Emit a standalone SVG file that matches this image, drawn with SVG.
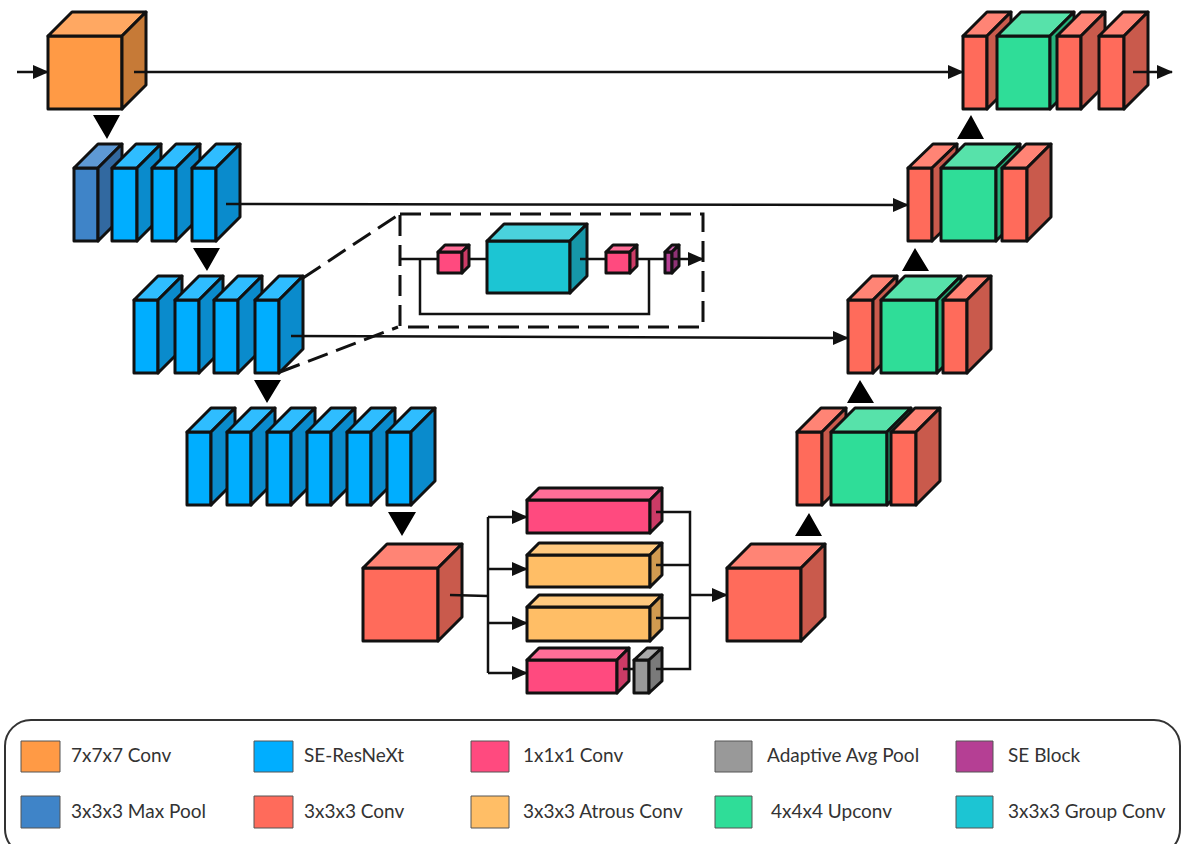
<svg xmlns="http://www.w3.org/2000/svg" width="1181" height="844" viewBox="0 0 1181 844">
<style>
text{font-family:Lato,"Liberation Sans",sans-serif;font-size:19px;fill:#333}
.c rect,.c path{stroke:#111;stroke-width:3;stroke-linejoin:round}
.c rect.sw{stroke:#555;stroke-width:1}
.l{fill:none;stroke:#111;stroke-width:2.5}
.d{fill:none;stroke:#111;stroke-width:3;stroke-dasharray:21 9}
.or .f{fill:#FF9A45}.or .t{fill:#FFA862}.or .s{fill:#C67A37}
.bl .f{fill:#00AEFF}.bl .t{fill:#2FBDFF}.bl .s{fill:#0A8BCC}
.mp .f{fill:#3F84C8}.mp .t{fill:#5E99D4}.mp .s{fill:#3269A0}
.rd .f{fill:#FF6B5B}.rd .t{fill:#FF8475}.rd .s{fill:#C95A4C}
.gr .f{fill:#2FDD98}.gr .t{fill:#57E2AA}.gr .s{fill:#26B07A}
.pk .f{fill:#FF4A7F}.pk .t{fill:#FF6E98}.pk .s{fill:#CC3B66}
.at .f{fill:#FFBE66}.at .t{fill:#FFC97F}.at .s{fill:#D19A50}
.gy .f{fill:#999}.gy .t{fill:#aaa}.gy .s{fill:#7a7a7a}
.te .f{fill:#1CC5D3}.te .t{fill:#4AD2DD}.te .s{fill:#1697A8}
.se .f{fill:#B53F94}.se .t{fill:#C762AA}.se .s{fill:#8E3275}
</style>
<defs>
<marker id="a" markerUnits="userSpaceOnUse" markerWidth="16" markerHeight="14" refX="15" refY="7" orient="auto"><path d="M0 0L16 7L0 14Z" fill="#111"/></marker>
</defs>

<g id="n-conv7" class="c or"><rect class="f" x="48" y="36" width="74" height="73"/><path class="t" d="M48 36L72 12H146L122 36Z"/><path class="s" d="M122 36L146 12V85L122 109Z"/></g>

<g id="n-pool" class="c mp"><rect class="f" x="74" y="168" width="24" height="73"/><path class="t" d="M74 168L98 144H122L98 168Z"/><path class="s" d="M98 168L122 144V217L98 241Z"/></g>
<g id="n-e1-1" class="c bl"><rect class="f" x="112" y="168" width="25" height="73"/><path class="t" d="M112 168L136 144H161L137 168Z"/><path class="s" d="M137 168L161 144V217L137 241Z"/></g>
<g id="n-e1-2" class="c bl"><rect class="f" x="152" y="168" width="24" height="73"/><path class="t" d="M152 168L176 144H200L176 168Z"/><path class="s" d="M176 168L200 144V217L176 241Z"/></g>
<g id="n-e1-3" class="c bl"><rect class="f" x="192" y="168" width="24" height="73"/><path class="t" d="M192 168L216 144H240L216 168Z"/><path class="s" d="M216 168L240 144V217L216 241Z"/></g>

<g id="n-e2-1" class="c bl"><rect class="f" x="134" y="300" width="24" height="73"/><path class="t" d="M134 300L158 276H182L158 300Z"/><path class="s" d="M158 300L182 276V349L158 373Z"/></g>
<g id="n-e2-2" class="c bl"><rect class="f" x="175" y="300" width="24" height="73"/><path class="t" d="M175 300L199 276H223L199 300Z"/><path class="s" d="M199 300L223 276V349L199 373Z"/></g>
<g id="n-e2-3" class="c bl"><rect class="f" x="214" y="300" width="24" height="73"/><path class="t" d="M214 300L238 276H262L238 300Z"/><path class="s" d="M238 300L262 276V349L238 373Z"/></g>
<g id="n-e2-4" class="c bl"><rect class="f" x="255" y="300" width="24" height="73"/><path class="t" d="M255 300L279 276H303L279 300Z"/><path class="s" d="M279 300L303 276V349L279 373Z"/></g>

<g id="n-e3-1" class="c bl"><rect class="f" x="187" y="432" width="24" height="73"/><path class="t" d="M187 432L211 408H235L211 432Z"/><path class="s" d="M211 432L235 408V481L211 505Z"/></g>
<g id="n-e3-2" class="c bl"><rect class="f" x="227" y="432" width="24" height="73"/><path class="t" d="M227 432L251 408H275L251 432Z"/><path class="s" d="M251 432L275 408V481L251 505Z"/></g>
<g id="n-e3-3" class="c bl"><rect class="f" x="267" y="432" width="24" height="73"/><path class="t" d="M267 432L291 408H315L291 432Z"/><path class="s" d="M291 432L315 408V481L291 505Z"/></g>
<g id="n-e3-4" class="c bl"><rect class="f" x="307" y="432" width="24" height="73"/><path class="t" d="M307 432L331 408H355L331 432Z"/><path class="s" d="M331 432L355 408V481L331 505Z"/></g>
<g id="n-e3-5" class="c bl"><rect class="f" x="347" y="432" width="24" height="73"/><path class="t" d="M347 432L371 408H395L371 432Z"/><path class="s" d="M371 432L395 408V481L371 505Z"/></g>
<g id="n-e3-6" class="c bl"><rect class="f" x="387" y="432" width="24" height="73"/><path class="t" d="M387 432L411 408H435L411 432Z"/><path class="s" d="M411 432L435 408V481L411 505Z"/></g>

<g id="n-bottleneck-in" class="c rd"><rect class="f" x="363" y="568" width="75" height="73"/><path class="t" d="M363 568L387 544H462L438 568Z"/><path class="s" d="M438 568L462 544V617L438 641Z"/></g>
<g id="n-bottleneck-out" class="c rd"><rect class="f" x="727" y="568" width="74" height="73"/><path class="t" d="M727 568L751 544H825L801 568Z"/><path class="s" d="M801 568L825 544V617L801 641Z"/></g>

<g id="n-aspp1" class="c pk"><rect class="f" x="527" y="500" width="123" height="33"/><path class="t" d="M527 500L539 488H662L650 500Z"/><path class="s" d="M650 500L662 488V521L650 533Z"/></g>
<g id="n-aspp2" class="c at"><rect class="f" x="527" y="555" width="123" height="32"/><path class="t" d="M527 555L539 543H662L650 555Z"/><path class="s" d="M650 555L662 543V575L650 587Z"/></g>
<g id="n-aspp3" class="c at"><rect class="f" x="527" y="607" width="123" height="34"/><path class="t" d="M527 607L539 595H662L650 607Z"/><path class="s" d="M650 607L662 595V629L650 641Z"/></g>
<g id="n-aspp4" class="c pk"><rect class="f" x="527" y="660" width="90" height="33"/><path class="t" d="M527 660L539 648H629L617 660Z"/><path class="s" d="M617 660L629 648V681L617 693Z"/></g>
<g id="n-aspp-pool" class="c gy"><rect class="f" x="634" y="660" width="15" height="33"/><path class="t" d="M634 660L647 648H662L649 660Z"/><path class="s" d="M649 660L662 648V681L649 693Z"/></g>

<g id="n-d4-1" class="c rd"><rect class="f" x="797" y="432" width="25" height="73"/><path class="t" d="M797 432L821 408H846L822 432Z"/><path class="s" d="M822 432L846 408V481L822 505Z"/></g>
<g id="n-d4-2" class="c gr"><rect class="f" x="831" y="432" width="56" height="73"/><path class="t" d="M831 432L855 408H911L887 432Z"/><path class="s" d="M887 432L911 408V481L887 505Z"/></g>
<g id="n-d4-3" class="c rd"><rect class="f" x="891" y="432" width="25" height="73"/><path class="t" d="M891 432L915 408H940L916 432Z"/><path class="s" d="M916 432L940 408V481L916 505Z"/></g>

<g id="n-d3-1" class="c rd"><rect class="f" x="848" y="300" width="25" height="73"/><path class="t" d="M848 300L872 276H897L873 300Z"/><path class="s" d="M873 300L897 276V349L873 373Z"/></g>
<g id="n-d3-2" class="c gr"><rect class="f" x="881" y="300" width="56" height="73"/><path class="t" d="M881 300L905 276H961L937 300Z"/><path class="s" d="M937 300L961 276V349L937 373Z"/></g>
<g id="n-d3-3" class="c rd"><rect class="f" x="943" y="300" width="24" height="73"/><path class="t" d="M943 300L967 276H991L967 300Z"/><path class="s" d="M967 300L991 276V349L967 373Z"/></g>

<g id="n-d2-1" class="c rd"><rect class="f" x="908" y="168" width="24" height="73"/><path class="t" d="M908 168L933 144H957L932 168Z"/><path class="s" d="M932 168L957 144V217L932 241Z"/></g>
<g id="n-d2-2" class="c gr"><rect class="f" x="941" y="168" width="55" height="73"/><path class="t" d="M941 168L965 144H1020L996 168Z"/><path class="s" d="M996 168L1020 144V217L996 241Z"/></g>
<g id="n-d2-3" class="c rd"><rect class="f" x="1002" y="168" width="25" height="73"/><path class="t" d="M1002 168L1026 144H1051L1027 168Z"/><path class="s" d="M1027 168L1051 144V217L1027 241Z"/></g>

<g id="n-d1-1" class="c rd"><rect class="f" x="963" y="36" width="24" height="73"/><path class="t" d="M963 36L987 12H1011L987 36Z"/><path class="s" d="M987 36L1011 12V85L987 109Z"/></g>
<g id="n-d1-2" class="c gr"><rect class="f" x="997" y="36" width="53" height="73"/><path class="t" d="M997 36L1021 12H1074L1050 36Z"/><path class="s" d="M1050 36L1074 12V85L1050 109Z"/></g>
<g id="n-d1-3" class="c rd"><rect class="f" x="1057" y="36" width="24" height="73"/><path class="t" d="M1057 36L1081 12H1105L1081 36Z"/><path class="s" d="M1081 36L1105 12V85L1081 109Z"/></g>
<g id="n-d1-4" class="c rd"><rect class="f" x="1099" y="36" width="25" height="73"/><path class="t" d="M1099 36L1123 12H1148L1124 36Z"/><path class="s" d="M1124 36L1148 12V85L1124 109Z"/></g>

<g id="n-inset-box"><rect class="d" x="400" y="214" width="303" height="113"/></g>
<g id="n-inset-1" class="c pk"><rect class="f" x="438" y="252" width="24" height="21"/><path class="t" d="M438 252L445 245H469L462 252Z"/><path class="s" d="M462 252L469 245V266L462 273Z"/></g>
<g id="n-inset-group" class="c te"><rect class="f" x="487" y="241" width="83" height="52"/><path class="t" d="M487 241L504 224H587L570 241Z"/><path class="s" d="M570 241L587 224V276L570 293Z"/></g>
<g id="n-inset-2" class="c pk"><rect class="f" x="606" y="252" width="24" height="21"/><path class="t" d="M606 252L613 245H637L630 252Z"/><path class="s" d="M630 252L637 245V266L630 273Z"/></g>
<g id="n-inset-se" class="c se"><rect class="f" x="665" y="252" width="7" height="21"/><path class="t" d="M665 252L672 245H679L672 252Z"/><path class="s" d="M672 252L679 245V266L672 273Z"/></g>

<g id="connectors">
<path class="l" d="M17 72H48" marker-end="url(#a)"/>
<path class="l" d="M134 72H963" marker-end="url(#a)"/>
<path class="l" d="M1133 72H1172" marker-end="url(#a)"/>
<path class="l" d="M226 204L908 205" marker-end="url(#a)"/>
<path class="l" d="M291 336L848 338" marker-end="url(#a)"/>
<path class="l" d="M450 595L488 596"/>
<path class="l" d="M488 517V673"/>
<path class="l" d="M488 517H527" marker-end="url(#a)"/>
<path class="l" d="M488 569H527" marker-end="url(#a)"/>
<path class="l" d="M488 623H527" marker-end="url(#a)"/>
<path class="l" d="M488 673H527" marker-end="url(#a)"/>
<path class="l" d="M656 512H690V669H656"/>
<path class="l" d="M656 565H690"/>
<path class="l" d="M656 618H690"/>
<path class="l" d="M623 669H634"/>
<path class="l" d="M690 595H727" marker-end="url(#a)"/>
<path class="d" d="M303 278L398 215M280 372L398 327"/>
<path class="l" d="M400 259H438M469 259H487M580 259H606M637 259H665"/>
<path class="l" d="M672 259H703" marker-end="url(#a)"/>
<path class="l" d="M420 259V314H649V259"/>
<path d="M93 115H120L107 139Z M193 248H220L207 271Z M254 380H281L267 403Z M388 512H416L402 536Z M957 139H984L971 115Z M902 271H929L915 248Z M847 403H874L860 380Z M795 536H822L809 513Z" fill="#000"/>
</g>

<g id="legend">
<rect x="5" y="720" width="1175" height="135" rx="26" fill="#fff" stroke="#333" stroke-width="2"/>
<g class="c or"><rect class="f sw" x="21" y="741" width="39" height="31"/></g><text x="71" y="762">7x7x7 Conv</text>
<g class="c mp"><rect class="f sw" x="21" y="796" width="39" height="32"/></g><text x="71" y="818">3x3x3 Max Pool</text>
<g class="c bl"><rect class="f sw" x="254" y="741" width="39" height="31"/></g><text x="304" y="762">SE-ResNeXt</text>
<g class="c rd"><rect class="f sw" x="254" y="796" width="39" height="32"/></g><text x="304" y="818">3x3x3 Conv</text>
<g class="c pk"><rect class="f sw" x="471" y="741" width="38" height="31"/></g><text x="523" y="762">1x1x1 Conv</text>
<g class="c at"><rect class="f sw" x="471" y="796" width="38" height="32"/></g><text x="523" y="818">3x3x3 Atrous Conv</text>
<g class="c gy"><rect class="f sw" x="715" y="741" width="37" height="31"/></g><text x="767" y="762">Adaptive Avg Pool</text>
<g class="c gr"><rect class="f sw" x="715" y="796" width="37" height="32"/></g><text x="771" y="818">4x4x4 Upconv</text>
<g class="c se"><rect class="f sw" x="956" y="741" width="37" height="31"/></g><text x="1008" y="762">SE Block</text>
<g class="c te"><rect class="f sw" x="956" y="796" width="37" height="32"/></g><text x="1008" y="818">3x3x3 Group Conv</text>
</g>
</svg>
